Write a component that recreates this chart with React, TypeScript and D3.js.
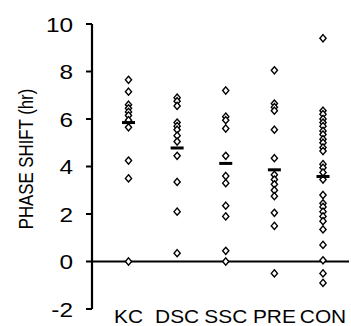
import * as d3 from "d3"

const categories = ["KC", "DSC", "SSC", "PRE", "CON"]

const kcValues = [7.65, 7.15, 6.6, 6.45, 6.3, 6.15, 5.95, 5.65, 4.25, 3.5, 0]
const dscValues = [6.9, 6.75, 6.55, 5.85, 5.7, 5.55, 5.3, 5.05, 4.45, 3.35, 2.1, 0.35]
const sscValues = [7.2, 6.1, 5.95, 5.6, 4.45, 3.6, 3.3, 2.35, 1.9, 0.45, 0]
const preValues = [8.05, 6.65, 6.5, 6.35, 5.55, 4.35, 3.65, 3.45, 3.25, 3.0, 2.75, 2.05, 1.5, -0.5]
const conValues = [
  9.4, 6.35, 6.2, 6.0, 5.85, 5.7, 5.5, 5.35, 5.15, 5.0, 4.8, 4.65, 4.1, 3.95,
  3.75, 3.45, 2.8, 2.45, 2.3, 2.1, 1.9, 1.7, 1.35, 0.7, 0.05, -0.5, -0.9,
]
const meanValues = [5.85, 4.78, 4.13, 3.86, 3.58]

const yTicks = [-2, 0, 2, 4, 6, 8, 10]

const seriesValues = [kcValues, dscValues, sscValues, preValues, conValues]

const width = 351
const height = 326
const font = "'Liberation Sans', Arial, sans-serif"
const stretch = 1.16

function diamond(cx: number, cy: number, w = 3.1, h = 3.6) {
  const p = d3.path()
  p.moveTo(cx, cy - h)
  p.lineTo(cx + w, cy)
  p.lineTo(cx, cy + h)
  p.lineTo(cx - w, cy)
  p.closePath()
  return p.toString()
}

export default function App() {
  const axisX = 92
  const y = d3.scaleLinear().domain([-2, 10]).range([309, 24])
  const x = d3.scalePoint().domain(categories).range([128.5, 323])

  return (
    <svg
      width={width}
      height={height}
      style={{ position: "absolute", left: 0, top: 0, background: "#fff" }}
    >
      {/* zero line */}
      <line x1={axisX} x2={349} y1={y(0)} y2={y(0)} stroke="#000" strokeWidth={2} />

      {/* y axis */}
      <line x1={axisX} x2={axisX} y1={y(10)} y2={y(-2)} stroke="#000" strokeWidth={2.2} />
      {yTicks.map(t => (
        <g key={t}>
          <line x1={axisX - 6} x2={axisX} y1={y(t)} y2={y(t)} stroke="#000" strokeWidth={2} />
          <text
            transform={`translate(73,${y(t) + 7.5}) scale(${stretch},1)`}
            textAnchor="end"
            fontFamily={font}
            fontSize={21}
            fill="#000"
          >
            {t}
          </text>
        </g>
      ))}

      <text
        transform={`translate(33,159) rotate(-90) scale(1,${stretch})`}
        textAnchor="middle"
        fontFamily={font}
        fontSize={16.8}
        fill="#000"
      >
        PHASE SHIFT (hr)
      </text>

      {/* points */}
      {categories.map((c, i) => (
        <g key={c}>
          {seriesValues[i].map((v, j) => (
            <path
              key={j}
              d={diamond(x(c) || 0, y(v))}
              fill="#fff"
              stroke="#000"
              strokeWidth={1.4}
            />
          ))}
          <rect
            x={(x(c) || 0) - 6.5}
            y={y(meanValues[i]) - 1.5}
            width={13}
            height={3}
            fill="#000"
          />
          <text
            transform={`translate(${x(c) || 0},323) scale(${stretch},1)`}
            textAnchor="middle"
            fontFamily={font}
            fontSize={18}
            fill="#000"
          >
            {c}
          </text>
        </g>
      ))}
    </svg>
  )
}
